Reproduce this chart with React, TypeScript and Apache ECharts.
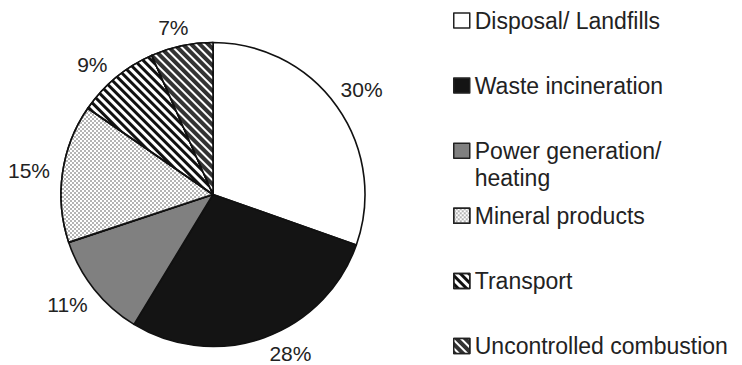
import React, { useEffect, useRef } from 'react';
import * as echarts from 'echarts';

const categories = [
  'Disposal/ Landfills',
  'Waste incineration',
  'Power generation/ heating',
  'Mineral products',
  'Transport',
  'Uncontrolled combustion',
];
const shares = [30.4, 28.3, 11.2, 14.7, 8.8, 6.6];
const legendTexts = [
  'Disposal/ Landfills',
  'Waste incineration',
  'Power generation/\nheating',
  'Mineral products',
  'Transport',
  'Uncontrolled combustion',
];

const FONT = '"Liberation Sans", Arial, Helvetica, sans-serif';
const TEXT = '#222';
const CX = 213;
const CY = 194.5;
const R = 152;

// small label nudges (styling) to mimic the reference's label placement
const labelNudge = [
  [-2, 2],
  [18, -8],
  [-2, -4],
  [-1, 2],
  [-7, 7],
  [-4, 3],
];

const sliceStyles: any[] = [
  { color: '#ffffff' },
  { color: '#141414' },
  { color: '#808080' },
  {
    color: '#ffffff',
    decal: {
      symbol: 'rect',
      symbolSize: 1,
      color: '#b4b4b4',
      dashArrayX: [[2, 2], [0, 2, 2, 0]],
      dashArrayY: [2, 0],
      rotation: 0,
    },
  },
  {
    color: '#ffffff',
    decal: {
      symbol: 'rect',
      symbolSize: 1,
      color: '#111111',
      dashArrayX: [1, 0],
      dashArrayY: [3, 3],
      rotation: Math.PI / 4,
    },
  },
  {
    color: '#333333',
    decal: {
      symbol: 'rect',
      symbolSize: 1,
      color: '#ffffff',
      dashArrayX: [1, 0],
      dashArrayY: [2, 4],
      rotation: Math.PI / 4,
    },
  },
];

export default function App() {
  const ref = useRef<HTMLDivElement>(null);

  useEffect(() => {
    document.body.style.margin = '0';
    if (!ref.current) return;
    const chart = echarts.init(ref.current, undefined, { renderer: 'svg' });
    const total = shares.reduce((a, b) => a + b, 0);

    const legends = categories.map((name, i) => {
      const yc = 20.5 + i * 65.1;
      const twoLine = legendTexts[i].includes('\n');
      return {
        data: [name],
        orient: 'vertical',
        left: 453,
        top: twoLine ? yc - 40.5 : yc - 12,
        padding: 0,
        itemWidth: 16,
        itemHeight: 15,
        icon: 'rect',
        selectedMode: false,
        itemStyle: { borderColor: '#222', borderWidth: 1.5 },
        formatter: () => (twoLine ? '\n' + legendTexts[i] : legendTexts[i]),
        textStyle: {
          fontFamily: FONT,
          fontSize: 23,
          color: TEXT,
          lineHeight: twoLine ? 27 : 24,
        },
      };
    });

    chart.setOption({
      animation: false,
      backgroundColor: '#ffffff',
      legend: legends,
      series: [
        {
          type: 'pie',
          center: [CX, CY],
          radius: R,
          startAngle: 90,
          clockwise: true,
          avoidLabelOverlap: false,
          silent: true,
          itemStyle: { borderColor: '#111', borderWidth: 1.6 },
          label: {
            show: true,
            position: 'outside',
            fontFamily: FONT,
            fontSize: 21,
            lineHeight: 21,
            color: TEXT,
            formatter: (p: any) => Math.round(p.percent) + '%',
          },
          labelLine: { show: false, length: 0, length2: 0 },
          labelLayout: (p: any) => {
            let cum = 0;
            for (let k = 0; k < p.dataIndex; k++) cum += shares[k];
            const th = (2 * Math.PI * (cum + shares[p.dataIndex] / 2)) / total;
            const s = Math.sin(th);
            const c = Math.cos(th);
            const hw = p.labelRect.width / 2;
            const hh = p.labelRect.height * 0.35;
            const d = R + 11 + Math.abs(s) * hw + Math.abs(c) * hh;
            const n = labelNudge[p.dataIndex];
            return { x: CX + s * d + n[0], y: CY - c * d + n[1], align: 'center', verticalAlign: 'middle' };
          },
          data: categories.map((name, i) => ({
            name,
            value: shares[i],
            itemStyle: sliceStyles[i],
          })),
        },
      ],
    });
    return () => chart.dispose();
  }, []);

  return <div ref={ref} style={{ width: 742, height: 365 }} />;
}
